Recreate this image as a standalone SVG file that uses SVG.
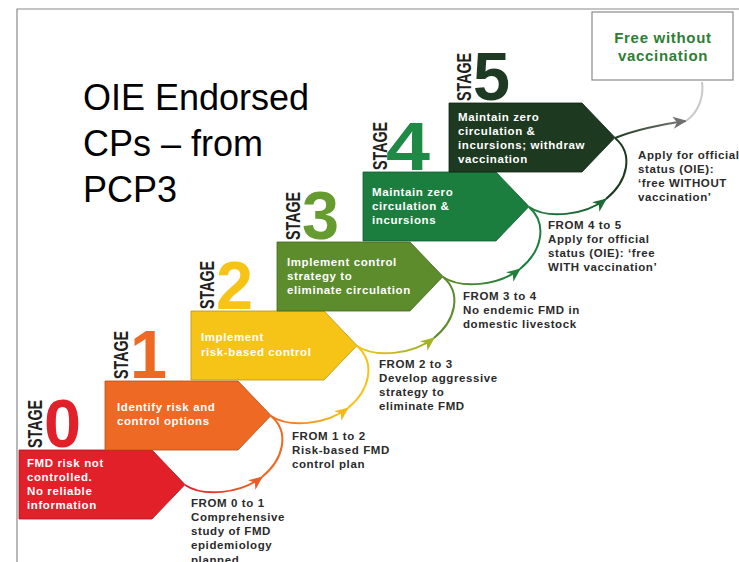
<svg xmlns="http://www.w3.org/2000/svg" width="739" height="562" viewBox="0 0 739 562">
<style>
.frame{fill:none;stroke:#8a8a8a;stroke-width:1.2}
.box{stroke-width:0.8}
.lbl{font-family:"Liberation Sans",Arial,sans-serif;font-weight:bold;font-size:11.5px;letter-spacing:0.6px;fill:#ffffff}
.note{font-family:"Liberation Sans",Arial,sans-serif;font-weight:bold;font-size:11.5px;letter-spacing:0.6px;fill:#2b2b2b}
.stage{font-family:"Liberation Sans",Arial,sans-serif;font-weight:bold;font-size:20px;fill:#231f20}
.num{font-family:"Liberation Sans",Arial,sans-serif;font-weight:bold;font-size:68px}
.title{font-family:"Liberation Sans",Arial,sans-serif;font-size:36px;fill:#000000}
.free{font-family:"Liberation Sans",Arial,sans-serif;font-weight:bold;font-size:15px;letter-spacing:0.7px;fill:#2e7d34}
.arc{fill:none;stroke-width:2}
</style>
<defs>
<linearGradient id="g0" gradientUnits="userSpaceOnUse" x1="185" y1="485" x2="262" y2="477"><stop offset="0" stop-color="#e2202a"/><stop offset="1" stop-color="#ee6a24"/></linearGradient>
<linearGradient id="g1" gradientUnits="userSpaceOnUse" x1="271" y1="416" x2="348" y2="408"><stop offset="0" stop-color="#ee6a24"/><stop offset="1" stop-color="#f6c417"/></linearGradient>
<linearGradient id="g2" gradientUnits="userSpaceOnUse" x1="357" y1="346" x2="434" y2="338"><stop offset="0" stop-color="#f6c417"/><stop offset="1" stop-color="#8fae25"/></linearGradient>
<linearGradient id="g3" gradientUnits="userSpaceOnUse" x1="443" y1="277" x2="520" y2="269"><stop offset="0" stop-color="#5c8c2b"/><stop offset="1" stop-color="#1b7e3f"/></linearGradient>
<linearGradient id="g4" gradientUnits="userSpaceOnUse" x1="529" y1="207" x2="606" y2="199"><stop offset="0" stop-color="#1b7e3f"/><stop offset="1" stop-color="#1d5a2c"/></linearGradient>
<linearGradient id="g5" gradientUnits="userSpaceOnUse" x1="615" y1="138" x2="686" y2="121"><stop offset="0" stop-color="#1d3920"/><stop offset="1" stop-color="#7a7a7a"/></linearGradient>
<marker id="m0" markerUnits="userSpaceOnUse" markerWidth="16" markerHeight="12" refX="13" refY="6" orient="auto"><path d="M0,0 L14,6 L0,12 L4,6 Z" fill="#ec5a25"/></marker>
<marker id="m1" markerUnits="userSpaceOnUse" markerWidth="16" markerHeight="12" refX="13" refY="6" orient="auto"><path d="M0,0 L14,6 L0,12 L4,6 Z" fill="#f4b81a"/></marker>
<marker id="m2" markerUnits="userSpaceOnUse" markerWidth="16" markerHeight="12" refX="13" refY="6" orient="auto"><path d="M0,0 L14,6 L0,12 L4,6 Z" fill="#a3b322"/></marker>
<marker id="m3" markerUnits="userSpaceOnUse" markerWidth="16" markerHeight="12" refX="13" refY="6" orient="auto"><path d="M0,0 L14,6 L0,12 L4,6 Z" fill="#247f3a"/></marker>
<marker id="m4" markerUnits="userSpaceOnUse" markerWidth="16" markerHeight="12" refX="13" refY="6" orient="auto"><path d="M0,0 L14,6 L0,12 L4,6 Z" fill="#1e6a34"/></marker>
<marker id="m5" markerUnits="userSpaceOnUse" markerWidth="16" markerHeight="12" refX="13" refY="6" orient="auto"><path d="M0,0 L14,6 L0,12 L4,6 Z" fill="#6f6f6f"/></marker>
</defs>
<rect width="739" height="562" fill="#ffffff"/>
<path class="frame" d="M17,562 V9 H739"/>
<text class="title" x="83" y="110">OIE Endorsed</text>
<text class="title" x="83" y="156">CPs – from</text>
<text class="title" x="83" y="202">PCP3</text>
<g id="connectors">
<path class="arc" stroke="url(#g0)" marker-end="url(#m0)" d="M185,485 C203,497 240,494 262,477"/>
<path class="arc" stroke="#ee6a24" d="M262,477 C284,459 290,432 271,416"/>
<path class="arc" stroke="url(#g1)" marker-end="url(#m1)" d="M271,416 C289,428 326,425 348,408"/>
<path class="arc" stroke="#f6c417" d="M348,408 C370,390 376,363 357,346"/>
<path class="arc" stroke="url(#g2)" marker-end="url(#m2)" d="M357,346 C375,358 412,355 434,338"/>
<path class="arc" stroke="#5c8c2b" d="M434,338 C456,320 462,293 443,277"/>
<path class="arc" stroke="url(#g3)" marker-end="url(#m3)" d="M443,277 C461,289 498,286 520,269"/>
<path class="arc" stroke="#1b7e3f" d="M520,269 C542,251 548,224 529,207"/>
<path class="arc" stroke="url(#g4)" marker-end="url(#m4)" d="M529,207 C547,219 584,216 606,199"/>
<path class="arc" stroke="#1d3920" d="M606,199 C628,181 634,154 615,138"/>
<path class="arc" stroke="url(#g5)" marker-end="url(#m5)" d="M615,138 C640,128 664,124 686,121"/>
<path class="arc" stroke="#c8c8c8" d="M686,121 C699,112 704,96 702,82"/>
</g>
<g id="stage0">
<path class="box" fill="#e2202a" stroke="#a3161c" d="M19,450 H152 L185,484.5 L152,519 H19 Z"/>
<text class="stage" transform="translate(42,448) rotate(-90)" textLength="48" lengthAdjust="spacingAndGlyphs">STAGE</text>
<text class="num" fill="#e2202a" x="44" y="447" textLength="37" lengthAdjust="spacingAndGlyphs">0</text>
<text class="lbl" x="27" y="467">FMD risk not</text>
<text class="lbl" x="27" y="481">controlled.</text>
<text class="lbl" x="27" y="495">No reliable</text>
<text class="lbl" x="27" y="509">information</text>
</g>
<g id="stage1">
<path class="box" fill="#ee6a24" stroke="#b24e18" d="M105,381 H238 L271,415.5 L238,450 H105 Z"/>
<text class="stage" transform="translate(128,379) rotate(-90)" textLength="48" lengthAdjust="spacingAndGlyphs">STAGE</text>
<text class="num" fill="#ee6a24" x="130" y="378" textLength="37" lengthAdjust="spacingAndGlyphs">1</text>
<text class="lbl" x="117" y="411">Identify risk and</text>
<text class="lbl" x="117" y="425">control options</text>
</g>
<g id="stage2">
<path class="box" fill="#f6c417" stroke="#b8920f" d="M191,311 H324 L357,345.5 L324,380 H191 Z"/>
<text class="stage" transform="translate(214,309) rotate(-90)" textLength="48" lengthAdjust="spacingAndGlyphs">STAGE</text>
<text class="num" fill="#f6c417" x="216" y="309" textLength="37" lengthAdjust="spacingAndGlyphs">2</text>
<text class="lbl" x="201" y="341">Implement</text>
<text class="lbl" x="201" y="356">risk-based control</text>
</g>
<g id="stage3">
<path class="box" fill="#5c8c2b" stroke="#43671f" d="M277,242 H410 L443,276.5 L410,311 H277 Z"/>
<text class="stage" transform="translate(300,240) rotate(-90)" textLength="48" lengthAdjust="spacingAndGlyphs">STAGE</text>
<text class="num" fill="#669b2f" x="302" y="239" textLength="37" lengthAdjust="spacingAndGlyphs">3</text>
<text class="lbl" x="287" y="266">Implement control</text>
<text class="lbl" x="287" y="280">strategy to</text>
<text class="lbl" x="287" y="294">eliminate circulation</text>
</g>
<g id="stage4">
<path class="box" fill="#1b7e3f" stroke="#135c2d" d="M363,172 H496 L529,206.5 L496,241 H363 Z"/>
<text class="stage" transform="translate(387,170) rotate(-90)" textLength="48" lengthAdjust="spacingAndGlyphs">STAGE</text>
<text class="num" fill="#1f8a45" x="386" y="170" textLength="44" lengthAdjust="spacingAndGlyphs">4</text>
<text class="lbl" x="372" y="196">Maintain zero</text>
<text class="lbl" x="372" y="210">circulation &amp;</text>
<text class="lbl" x="372" y="224">incursions</text>
</g>
<g id="stage5">
<path class="box" fill="#1d3920" stroke="#112414" d="M449,103 H582 L615,137.5 L582,172 H449 Z"/>
<text class="stage" transform="translate(471,101) rotate(-90)" textLength="48" lengthAdjust="spacingAndGlyphs">STAGE</text>
<text class="num" fill="#1e3a22" x="473" y="100" textLength="37" lengthAdjust="spacingAndGlyphs">5</text>
<text class="lbl" x="458" y="121">Maintain zero</text>
<text class="lbl" x="458" y="135">circulation &amp;</text>
<text class="lbl" x="458" y="149">incursions; withdraw</text>
<text class="lbl" x="458" y="163">vaccination</text>
</g>
<g id="free">
<rect x="592" y="12" width="141" height="68" fill="#ffffff" stroke="#8a8a8a" stroke-width="1.2"/>
<text class="free" x="663" y="43" text-anchor="middle">Free without</text>
<text class="free" x="663" y="61" text-anchor="middle">vaccination</text>
</g>
<g id="notes">
<text class="note" x="191" y="507">FROM 0 to 1</text>
<text class="note" x="191" y="521">Comprehensive</text>
<text class="note" x="191" y="535">study of FMD</text>
<text class="note" x="191" y="549">epidemiology</text>
<text class="note" x="191" y="564">planned</text>
<text class="note" x="292" y="440">FROM 1 to 2</text>
<text class="note" x="292" y="454">Risk-based FMD</text>
<text class="note" x="292" y="468">control plan</text>
<text class="note" x="379" y="368">FROM 2 to 3</text>
<text class="note" x="379" y="382">Develop aggressive</text>
<text class="note" x="379" y="396">strategy to</text>
<text class="note" x="379" y="410">eliminate FMD</text>
<text class="note" x="463" y="300">FROM 3 to 4</text>
<text class="note" x="463" y="314">No endemic FMD in</text>
<text class="note" x="463" y="328">domestic livestock</text>
<text class="note" x="548" y="229">FROM 4 to 5</text>
<text class="note" x="548" y="243">Apply for official</text>
<text class="note" x="548" y="257">status (OIE): ‘free</text>
<text class="note" x="548" y="271">WITH vaccination’</text>
<text class="note" x="638" y="159">Apply for official</text>
<text class="note" x="638" y="173">status (OIE):</text>
<text class="note" x="638" y="187">‘free WITHOUT</text>
<text class="note" x="638" y="201">vaccination’</text>
</g>
</svg>
